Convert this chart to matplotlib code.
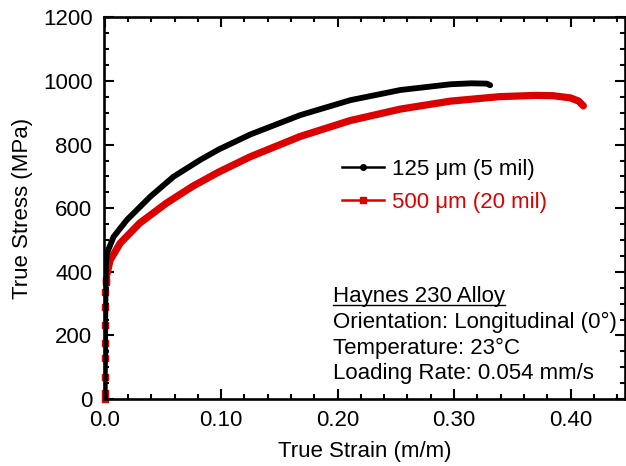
import matplotlib
matplotlib.use("Agg")
import matplotlib.pyplot as plt
from matplotlib.lines import Line2D
from matplotlib.ticker import MultipleLocator, FuncFormatter
from matplotlib.transforms import IdentityTransform

plt.rcParams['font.family'] = ['Liberation Sans', 'DejaVu Sans']

# ---- data ----
# 125 um (5 mil) specimen
black_strain = [0.0, 0.0003, 0.0006, 0.0010, 0.0019, 0.0076, 0.019, 0.039, 0.059, 0.082,
                0.098, 0.125, 0.168, 0.211, 0.254, 0.297, 0.315, 0.328, 0.331]
black_stress = [0, 150, 300, 420, 458, 510, 563, 636, 699, 752,
                785, 832, 893, 940, 972, 990, 993, 992, 987]

# 500 um (20 mil) specimen: elastic part (discrete markers)
red_el_strain = [0.0, 0.0001, 0.0002, 0.0003, 0.0004, 0.0005, 0.0006, 0.0007, 0.0008, 0.0008]
red_el_stress = [0, 19, 69, 129, 176, 233, 290, 337, 369, 374]
# plastic part
red_strain = [0.0008, 0.0047, 0.0133, 0.030, 0.053, 0.076, 0.098, 0.125, 0.168, 0.211,
              0.254, 0.297, 0.339, 0.370, 0.385, 0.400, 0.407, 0.411]
red_stress = [374, 437, 490, 553, 616, 670, 714, 762, 826, 876,
              912, 937, 951, 955, 954, 947, 937, 922]

series_labels = ["125 \u03bcm (5 mil)", "500 \u03bcm (20 mil)"]
info_lines = ["Haynes 230 Alloy", "Orientation: Longitudinal (0\u00b0)",
              "Temperature: 23\u00b0C", "Loading Rate: 0.054 mm/s"]

BLACK = "#000000"
RED = "#dd0000"
FS = 16

W, H = 626, 466
fig = plt.figure(figsize=(W / 100, H / 100), dpi=100)
ax = fig.add_axes([103.5 / W, (H - 399) / H, (625.5 - 103.5) / W, (399 - 17.5) / H])

# black series
ax.plot(black_strain, black_stress, color=BLACK, lw=4.2, solid_capstyle='round',
        solid_joinstyle='round', zorder=3)
ax.plot([black_strain[1]], [black_stress[1]], marker='o', ms=4, color=BLACK, zorder=4)

# red series
ax.plot(red_el_strain, red_el_stress, color=RED, lw=1.5, marker='s', ms=4.5,
        ls='-', zorder=2, clip_on=False)
ax.plot(red_strain, red_stress, color=RED, lw=5.2, solid_capstyle='round',
        solid_joinstyle='round', zorder=2)

ax.set_xlim(-0.001, 0.4472)
ax.set_ylim(0, 1200)

ax.xaxis.set_major_locator(MultipleLocator(0.1))
ax.xaxis.set_minor_locator(MultipleLocator(0.02))
ax.yaxis.set_major_locator(MultipleLocator(200))
ax.yaxis.set_minor_locator(MultipleLocator(50))
ax.xaxis.set_major_formatter(FuncFormatter(lambda v, p: "0.0" if abs(v) < 1e-9 else f"{v:.2f}"))
ax.yaxis.set_major_formatter(FuncFormatter(lambda v, p: f"{v:.0f}"))

ax.tick_params(which='both', direction='in', top=True, right=True, labelsize=FS, width=1.5)
ax.tick_params(which='major', length=7.5, pad=8)
ax.tick_params(which='minor', length=3.8)
for s in ax.spines.values():
    s.set_linewidth(1.9)

ax.set_xlabel("True Strain (m/m)", fontsize=FS, labelpad=7)
ax.set_ylabel("True Stress (MPa)", fontsize=FS, labelpad=7)

# legend
handles = [Line2D([], [], color=BLACK, lw=1.8, marker='o', ms=4),
           Line2D([], [], color=RED, lw=1.8, marker='s', ms=4.5)]
leg = fig.legend(handles, series_labels, loc='upper left',
                 bbox_to_anchor=(342 / W, 1 - 159 / H), frameon=False,
                 fontsize=FS, handlelength=1.9, handletextpad=0.35,
                 labelspacing=0.55, borderpad=0, borderaxespad=0,
                 labelcolor='linecolor')

# info text
baselines = [302, 328, 354, 379]
texts = []
for line, yb in zip(info_lines, baselines):
    t = fig.text(333 / W, 1 - yb / H, line, fontsize=FS, ha='left', va='baseline', color=BLACK)
    texts.append(t)

fig.canvas.draw()
r = fig.canvas.get_renderer()
bb = texts[0].get_window_extent(r)
fig.add_artist(Line2D([bb.x0, bb.x1], [H - 304.5, H - 304.5], color=BLACK, lw=1.0,
                      transform=IdentityTransform()))

fig.savefig("out.png", dpi=100)
